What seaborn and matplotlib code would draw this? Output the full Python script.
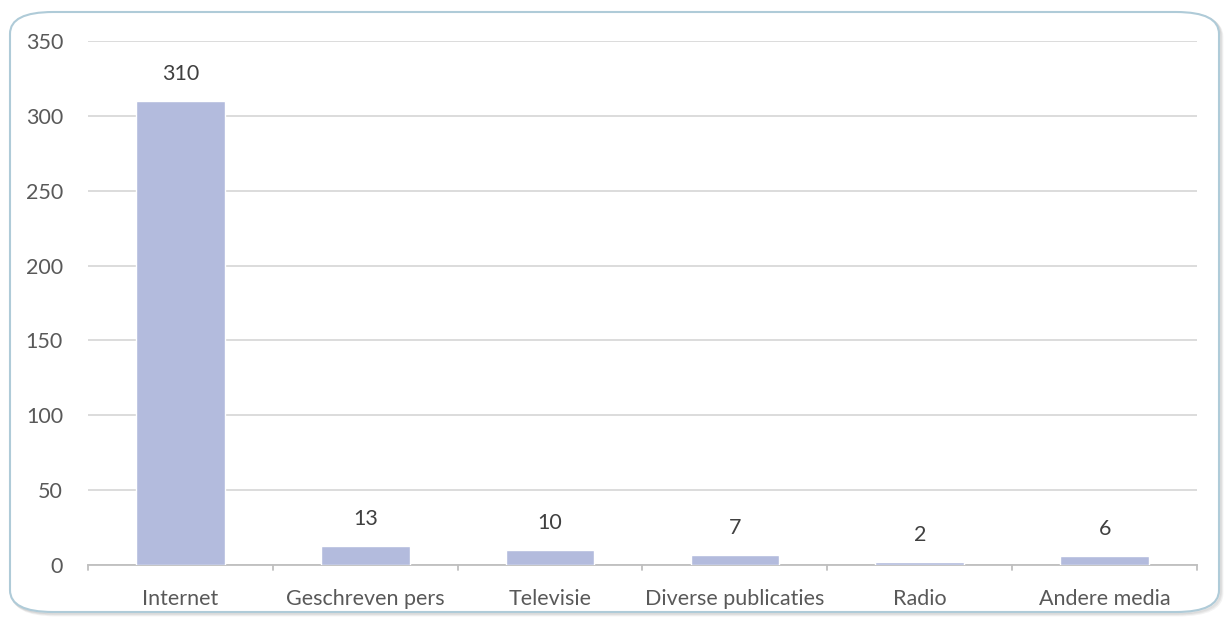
import matplotlib
matplotlib.use("Agg")
import matplotlib.pyplot as plt
from matplotlib.patches import FancyBboxPatch
import seaborn as sns
import pandas as pd

categories = ["Internet", "Geschreven pers", "Televisie", "Diverse publicaties", "Radio", "Andere media"]
values = [310, 13, 10, 7, 2, 6]
yticks = [0, 50, 100, 150, 200, 250, 300, 350]

sns.set_theme(style="white")
plt.rcParams['font.family'] = ['Lato', 'DejaVu Sans']

W, H = 1230, 622
fig = plt.figure(figsize=(W / 100, H / 100), dpi=100)
fig.patch.set_facecolor("white")

# rounded frame with soft shadow
fx0, fy0, fw, fh = 10, 10, 1209, 600
for off, a in [(3, 0.10), (2, 0.13), (1, 0.16)]:
    sh = FancyBboxPatch(((fx0 + off) / W, (fy0 - off) / H), fw / W, fh / H,
                        boxstyle="round,pad=0,rounding_size=0.035",
                        transform=fig.transFigure, facecolor="none",
                        edgecolor=(0.55, 0.55, 0.55, a), linewidth=2.0, zorder=-3)
    fig.patches.append(sh)
frame = FancyBboxPatch((fx0 / W, fy0 / H), fw / W, fh / H,
                       boxstyle="round,pad=0,rounding_size=0.035",
                       transform=fig.transFigure, facecolor="white",
                       edgecolor="#AFCBD8", linewidth=1.5, zorder=-2)
fig.patches.append(frame)

ax = fig.add_axes([88 / W, 1 - 565 / H, (1197 - 88) / W, (565 - 41) / H])
ax.set_facecolor("none")
ax.set_zorder(1)

df = pd.DataFrame({"cat": categories, "val": values})
sns.barplot(data=df, x="cat", y="val", color="#B3BBDD", saturation=1, width=0.48,
            ax=ax, zorder=3)

ax.set_ylim(0, 350)
ax.set_xlim(-0.5, len(categories) - 0.5)
ax.set_yticks(yticks)
ax.set_yticklabels([str(t) for t in yticks])
ax.yaxis.grid(True, color="#D9D9D9", linewidth=1.3, zorder=0)
ax.xaxis.grid(False)
for s in ["top", "right", "left"]:
    ax.spines[s].set_visible(False)
ax.spines["bottom"].set_color("#BFBFBF")
ax.spines["bottom"].set_linewidth(1.3)

ax.set_xlabel("")
ax.set_ylabel("")
ax.tick_params(axis="y", length=0, pad=18, labelsize=15.5, labelcolor="#595959")
ax.tick_params(axis="x", length=0, pad=17, labelsize=15.5, labelcolor="#595959")

# category boundary ticks
for b in range(len(categories) + 1):
    ax.plot([b - 0.5, b - 0.5], [0, -3.5], color="#BFBFBF", lw=1.3,
            clip_on=False, zorder=2)

for i, v in enumerate(values):
    ax.annotate(str(v), (i, v), xytext=(0, 12), textcoords="offset points",
                ha="center", va="bottom", fontsize=15.5, color="#404040")

fig.savefig("out.png", dpi=100, facecolor="white")
